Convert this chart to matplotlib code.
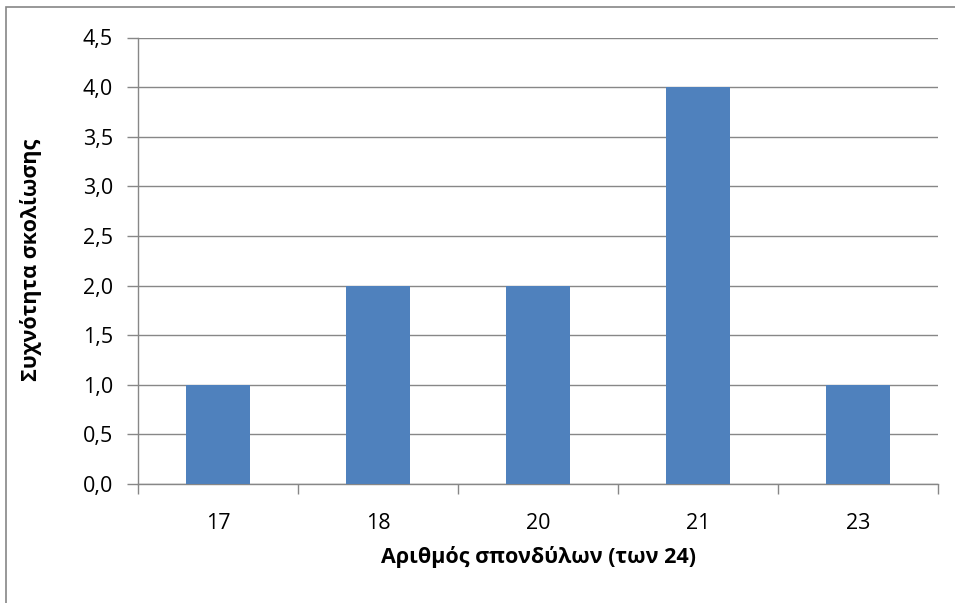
import matplotlib
matplotlib.use("Agg")
import matplotlib.pyplot as plt
from matplotlib.patches import Rectangle

# data
categories = ["17", "18", "20", "21", "23"]
frequency = [1, 2, 2, 4, 1]
y_ticks = [0.0, 0.5, 1.0, 1.5, 2.0, 2.5, 3.0, 3.5, 4.0, 4.5]

x_label = "Αριθμός σπονδύλων (των 24)"
y_label = "Συχνότητα σκολίωσης"

plt.rcParams["font.family"] = ["Open Sans", "DejaVu Sans"]

W, H = 955, 603
fig = plt.figure(figsize=(W / 100, H / 100), dpi=100)
# plot area in pixels: left 138, right 938, top 37.5, bottom 484
ax = fig.add_axes([138 / W, 1 - 484 / H, (938 - 138) / W, (484 - 37.5) / H])

grid_col = "#878787"
bar_col = "#4f81bd"

x = list(range(len(categories)))
ax.bar(x, frequency, width=0.4, color=bar_col, zorder=3)

ax.set_xlim(-0.5, len(categories) - 0.5)
ax.set_ylim(0, 4.5)
ax.set_yticks(y_ticks)
ax.set_yticklabels([f"{v:.1f}".replace(".", ",") for v in y_ticks])
ax.yaxis.grid(True, color=grid_col, linewidth=1.0, zorder=0)

# category labels centred, tick marks between categories
ax.set_xticks(x)
ax.set_xticklabels(categories)
ax.tick_params(axis="x", which="major", length=0, pad=21, labelsize=15.5)
ax.set_xticks([i - 0.5 for i in range(len(categories) + 1)], minor=True)
ax.tick_params(axis="x", which="minor", length=7, color=grid_col, width=1.0)
ax.tick_params(axis="y", length=8, color=grid_col, width=1.0, labelsize=15.5, pad=10)

for side in ("top", "right"):
    ax.spines[side].set_visible(False)
for side in ("left", "bottom"):
    ax.spines[side].set_color(grid_col)
    ax.spines[side].set_linewidth(1.0)

fig.text(538 / W, 1 - 557 / H, x_label, fontsize=15.5, fontweight="bold",
         ha="center", va="center")
fig.text(31 / W, 1 - 260 / H, y_label, fontsize=15.5, fontweight="bold",
         ha="center", va="center", rotation=90)

# chart border (only left and top visible in the crop)
fig.patches.append(Rectangle((6 / W, -0.05), 1.2, 1 - 7 / H + 0.05,
                             transform=fig.transFigure, fill=False,
                             edgecolor="#868686", linewidth=1.2))

fig.savefig("out.png", dpi=100)
